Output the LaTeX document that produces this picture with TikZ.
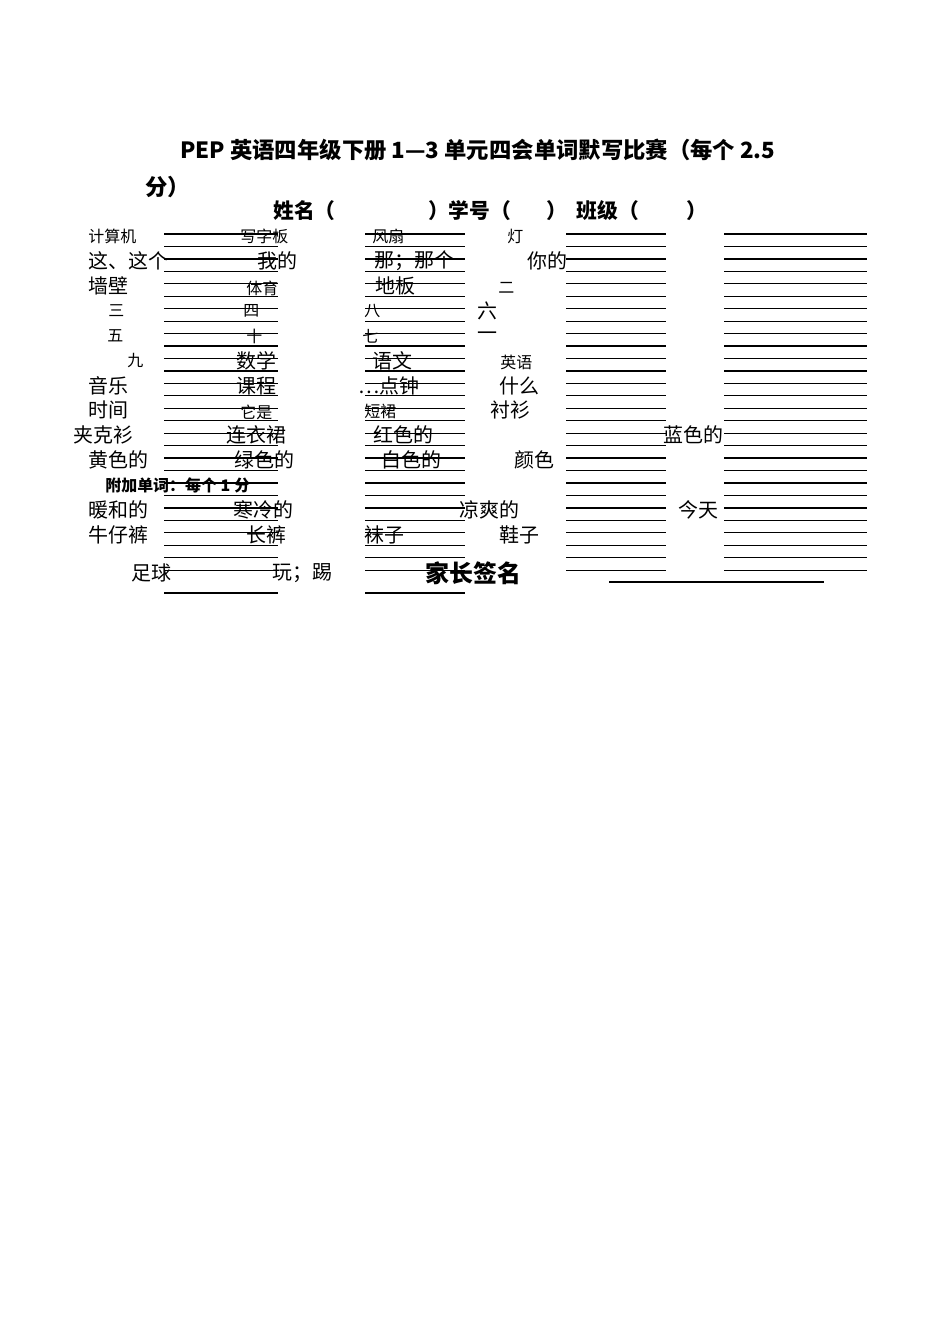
\documentclass[tikz,border=0pt]{standalone}
\usepackage{fontspec}
\setmainfont{Noto Sans CJK SC}
\begin{document}
\begin{tikzpicture}[x=0.6263pt,y=-0.6263pt,
  sm/.style={anchor=west,inner sep=0pt,font=\fontsize{10}{10}\selectfont},
  lg/.style={anchor=west,inner sep=0pt,font=\fontsize{12.5}{12.5}\selectfont},
  ttl/.style={anchor=west,inner sep=0pt,font=\fontsize{14}{14}\selectfont\bfseries},
  rule/.style={line width=0.8pt}]
\useasboundingbox[fill=white] (0,0) rectangle (950,1344);
\foreach \i in {0,...,27}{
  \pgfmathsetmacro{\yy}{234+12.45*\i}
  \draw[rule] (164,\yy) -- (278,\yy);
  \draw[rule] (365,\yy) -- (465,\yy);
  \draw[rule] (566,\yy) -- (666,\yy);
  \draw[rule] (724,\yy) -- (867,\yy);
}
\draw[rule] (164,593) -- (278,593);
\draw[rule] (365,593) -- (465,593);
\draw[rule] (609,582) -- (824,582);
\node[ttl] (t1) at (180,150) {PEP 英语四年级下册 1---3 单元四会单词默写比赛（每个 2.5};
\node[ttl] (t2) at (145,187) {分）};
\node[ttl,font=\fontsize{13}{13}\selectfont\bfseries] (t3) at (273,211) {姓名（\hspace{58pt}）学号（\hspace{22pt}）\hspace{6pt}班级（\hspace{30pt}）};
% row 1
\node[sm] (a1) at (88,236) {计算机};
\node[sm] (a2) at (240,236) {写字板};
\node[sm] (a3) at (372,236) {风扇};
\node[sm] (a4) at (507,236) {灯};
\node[lg] (b1) at (88,261) {这、这个};
\node[lg] (b2) at (257,261) {我的};
\node[lg] (b3) at (374,261) {那；那个};
\node[lg] (b4) at (527,261) {你的};
\node[lg] (c1) at (88,286) {墙壁};
\node[sm] (c2) at (246,288) {体育};
\node[lg] (c3) at (375,286) {地板};
\node[sm] (c4) at (498,288) {二};
\node[sm] (d1) at (108,311) {三};
\node[sm] (d2) at (243,311) {四};
\node[sm] (d3) at (364,311) {八};
\node[lg] (d4) at (477,311) {六};
\node[sm] (e1) at (107,336) {五};
\node[sm] (e2) at (246,336) {十};
\node[sm] (e3) at (362,336) {七};
\node[lg] (e4) at (477,336) {一};
\node[sm] (f1) at (127,361) {九};
\node[lg] (f2) at (236,361) {数学};
\node[lg] (f3) at (372,361) {语文};
\node[sm] (f4) at (500,362) {英语};
\node[lg] (g1) at (88,386) {音乐};
\node[lg] (g2) at (236,386) {课程};
\node[lg] (g3) at (358,386) {…点钟};
\node[lg] (g4) at (499,386) {什么};
\node[lg] (h1) at (88,410) {时间};
\node[sm] (h2) at (240,412) {它是};
\node[sm] (h3) at (364,411) {短裙};
\node[lg] (h4) at (490,410) {衬衫};
\node[lg] (i1) at (73,435) {夹克衫};
\node[lg] (i2) at (226,435) {连衣裙};
\node[lg] (i3) at (373,435) {红色的};
\node[lg] (i4) at (663,435) {蓝色的};
\node[lg] (j1) at (88,460) {黄色的};
\node[lg] (j2) at (234,460) {绿色的};
\node[lg] (j3) at (381,460) {白色的};
\node[lg] (j4) at (514,460) {颜色};
\node[sm,font=\fontsize{10}{10}\selectfont\bfseries] (k1) at (105,485) {附加单词：每个 1 分};
\node[lg] (l1) at (88,510) {暖和的};
\node[lg] (l2) at (233,510) {寒冷的};
\node[lg] (l3) at (459,510) {凉爽的};
\node[lg] (l4) at (678,510) {今天};
\node[lg] (m1) at (88,535) {牛仔裤};
\node[lg] (m2) at (246,535) {长裤};
\node[lg] (m3) at (364,535) {袜子};
\node[lg] (m4) at (499,535) {鞋子};
\node[lg] (n1) at (131,573) {足球};
\node[lg] (n2) at (272,573) {玩；踢};
\node[lg,font=\fontsize{15}{15}\selectfont\bfseries] (n3) at (425,573) {家长签名};
\end{tikzpicture}
\end{document}
